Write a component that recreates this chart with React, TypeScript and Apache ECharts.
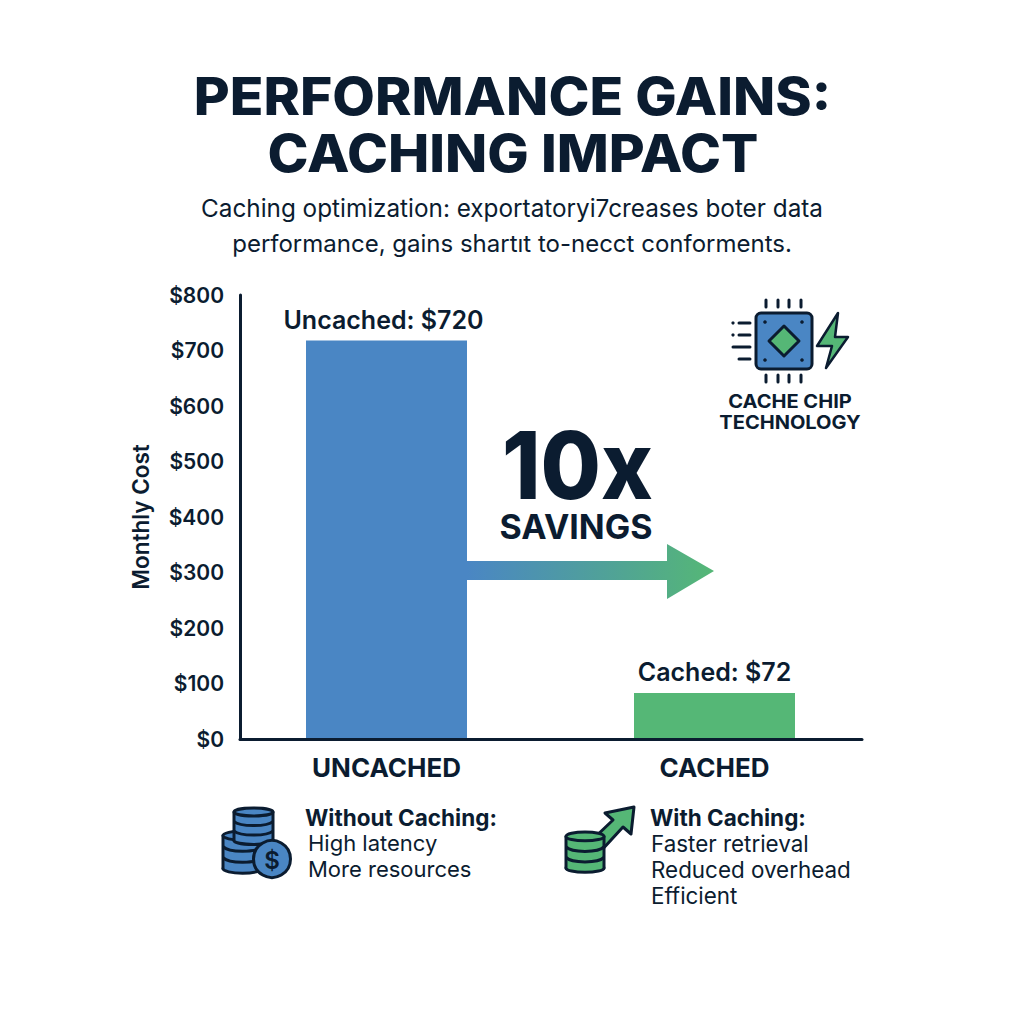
import React, { useEffect, useRef } from "react";
import * as echarts from "echarts";

const categories = ["UNCACHED", "CACHED"];
const labelPrefixes = ["Uncached", "Cached"];
// The picture labels the bars $720 and $72, but the cached bar is drawn taller than $72 on the axis.
const labelValues = [720, 72];
const drawnHeights = [718, 83];
const barColors = ["#4a86c4", "#55b776"];
const titleLines = ["PERFORMANCE GAINS:", "CACHING IMPACT"];
const subtitleLines = [
  "Caching optimization: exportatoryi7creases boter data",
  "performance, gains shartıt to-necct conforments.",
];
const withoutTitle = "Without Caching:";
const withoutLines = ["High latency", "More resources"];
const withTitle = "With Caching:";
const withLines = ["Faster retrieval", "Reduced overhead", "Efficient"];

const INK = "#0b1c30";
const BLUE = "#4a86c4";
const GREEN = "#55b776";
const FONT = "Inter";

function txt(text: string, x: number, y: number, fontSize: number, fontWeight: number, align = "left", scaleX = 1, lineHeight?: number): any {
  return {
    type: "text", x, y, scaleX, silent: true,
    style: { text, fontSize, fontWeight, fontFamily: FONT, fill: INK, align, verticalAlign: "middle", lineHeight },
  };
}

function seg(x1: number, y1: number, x2: number, y2: number, lineWidth = 3): any {
  return { type: "line", shape: { x1, y1, x2, y2 }, style: { stroke: INK, lineWidth, lineCap: "round" } };
}

function cylinder(x: number, y: number, w: number, layerH: number, layers: number, fill: string): any[] {
  const ry = layerH * 0.42;
  const cx = x + w / 2;
  const out: any[] = [];
  const bottom = y + ry + layerH * layers;
  out.push({ type: "ellipse", shape: { cx, cy: bottom, rx: w / 2, ry }, style: { fill, stroke: INK, lineWidth: 3 } });
  out.push({ type: "rect", shape: { x, y: y + ry, width: w, height: layerH * layers }, style: { fill, stroke: "none" } });
  out.push(seg(x, y + ry, x, bottom));
  out.push(seg(x + w, y + ry, x + w, bottom));
  for (let i = layers - 1; i >= 1; i--) {
    const cy = y + ry + layerH * i;
    out.push({ type: "bezierCurve", shape: { x1: x, y1: cy, cpx1: x + w * 0.15, cpy1: cy + ry * 1.35, cpx2: x + w * 0.85, cpy2: cy + ry * 1.35, x2: x + w, y2: cy }, style: { stroke: INK, lineWidth: 3, fill: "none" } });
  }
  out.push({ type: "ellipse", shape: { cx, cy: y + ry, rx: w / 2, ry }, style: { fill, stroke: INK, lineWidth: 3 } });
  return out;
}

function graphics(): any[] {
  const arrow = {
    type: "polygon",
    shape: { points: [[467, 561], [667, 561], [667, 544], [714, 571], [667, 599], [667, 580], [467, 580]] },
    style: {
      fill: new echarts.graphic.LinearGradient(0, 0, 1, 0, [
        { offset: 0, color: BLUE },
        { offset: 1, color: GREEN },
      ]),
    },
  };
  const chip: any[] = [
    { type: "rect", shape: { x: 756, y: 313, width: 56, height: 56, r: 5 }, style: { fill: BLUE, stroke: INK, lineWidth: 3 } },
    { type: "polygon", shape: { points: [[784, 326], [799, 341], [784, 356], [769, 341]] }, style: { fill: GREEN, stroke: INK, lineWidth: 3, lineJoin: "round" } },
    { type: "polygon", shape: { points: [[838, 313], [817, 346], [832, 346], [826, 368], [848, 337], [835, 337]] }, style: { fill: GREEN, stroke: INK, lineWidth: 2.5, lineJoin: "round" } },
    ...[766, 778, 789, 801].flatMap((x) => [seg(x, 300, x, 307), seg(x, 375, x, 382)]),
    ...[[765, 322], [802, 322], [765, 360], [802, 360]].map(([cx, cy]) => ({ type: "circle", shape: { cx, cy, r: 1.8 }, style: { fill: INK } })),
    seg(739, 323, 750, 323), seg(739, 335, 750, 335), seg(733, 347, 750, 347), seg(739, 359, 750, 359),
    { type: "circle", shape: { cx: 733, cy: 323, r: 1.6 }, style: { fill: INK } },
    { type: "circle", shape: { cx: 733, cy: 335, r: 1.6 }, style: { fill: INK } },
  ];
  const coins: any[] = [
    ...cylinder(223, 831, 39, 11, 3, BLUE),
    ...cylinder(234, 808, 39, 9.5, 3, BLUE),
    { type: "circle", shape: { cx: 272, cy: 859, r: 18.5 }, style: { fill: BLUE, stroke: INK, lineWidth: 3 } },
    txt("$", 272, 860, 24, 600, "center"),
  ];
  const growth: any[] = [
    { type: "polygon", shape: { points: [[634, 807], [605, 813], [613, 820], [592, 840], [600, 852], [623, 827], [631, 834]] }, style: { fill: GREEN, stroke: INK, lineWidth: 3, lineJoin: "round" } },
    ...cylinder(566, 832, 38, 10.5, 3, GREEN),
  ];
  return [
    txt(titleLines[0], 512.5, 96, 52, 800, "center", 1.062),
    txt(titleLines[1], 513, 153, 52, 800, "center", 1.062),
    txt(subtitleLines[0], 512, 208, 24.3, 400, "center"),
    txt(subtitleLines[1], 512, 243, 24, 400, "center"),
    arrow,
    txt("10x", 577.5, 465, 94, 800, "center", 0.93, 72),
    txt("SAVINGS", 576, 526, 34, 700, "center", 1, 30),
    ...chip,
    txt("CACHE CHIP", 790, 401, 19, 700, "center", 1.055),
    txt("TECHNOLOGY", 790, 422, 19, 700, "center", 1.055),
    ...coins,
    txt(withoutTitle, 305, 817, 22.5, 700),
    txt(withoutLines[0], 308, 843, 22, 400),
    txt(withoutLines[1], 308, 869, 22, 400),
    ...growth,
    txt(withTitle, 650, 817, 22.5, 700),
    txt(withLines[0], 651, 843, 22.4, 400),
    txt(withLines[1], 651, 869, 22.4, 400),
    txt(withLines[2], 651, 895, 22.4, 400),
  ];
}

export default function App() {
  const ref = useRef<HTMLDivElement>(null);
  useEffect(() => {
    const chart = echarts.init(ref.current!, undefined, { renderer: "svg" });
    chart.setOption({
      animation: false,
      backgroundColor: "#ffffff",
      textStyle: { fontFamily: FONT },
      grid: [
        { left: 222.5, top: 295, width: 656, height: 444 },
        { left: 240, top: 295, width: 622, height: 444 },
      ],
      xAxis: [
        {
          type: "category", gridIndex: 0, data: categories,
          axisLine: { show: false }, axisTick: { show: false },
          axisLabel: { fontSize: 26, fontWeight: 700, color: INK, margin: 15, fontFamily: FONT },
        },
        {
          type: "value", gridIndex: 1, min: 0, max: 1, z: 5,
          axisLine: { show: true, onZero: false, lineStyle: { color: INK, width: 3 } },
          axisTick: { show: false }, axisLabel: { show: false }, splitLine: { show: false },
        },
      ],
      yAxis: [
        { type: "value", gridIndex: 0, min: 0, max: 800, show: false },
        {
          type: "value", gridIndex: 1, min: 0, max: 800, interval: 100, z: 5,
          name: "Monthly Cost", nameLocation: "middle", nameGap: 88, nameRotate: 90,
          nameTextStyle: { fontSize: 22.5, fontWeight: 600, color: INK, fontFamily: FONT },
          axisLine: { show: true, onZero: false, lineStyle: { color: INK, width: 3 } },
          axisTick: { show: false }, splitLine: { show: false },
          axisLabel: { formatter: (v: number) => `$${v}`, fontSize: 21, fontWeight: 600, color: INK, margin: 16, fontFamily: FONT },
        },
      ],
      series: [
        {
          type: "bar", xAxisIndex: 0, yAxisIndex: 0, barWidth: 161,
          data: drawnHeights.map((value, i) => ({
            value,
            itemStyle: { color: barColors[i] },
            label: { offset: [i === 0 ? -3 : 0, 0] },
          })),
          label: {
            show: true, position: "top", distance: 8,
            formatter: (p: any) => `${labelPrefixes[p.dataIndex]}: $${labelValues[p.dataIndex]}`,
            fontSize: 25, fontWeight: 600, color: INK, fontFamily: FONT,
          },
        },
      ],
      graphic: { elements: graphics() },
    });
    return () => chart.dispose();
  }, []);
  return <div ref={ref} style={{ position: "absolute", left: 0, top: 0, width: 1024, height: 1024 }} />;
}
